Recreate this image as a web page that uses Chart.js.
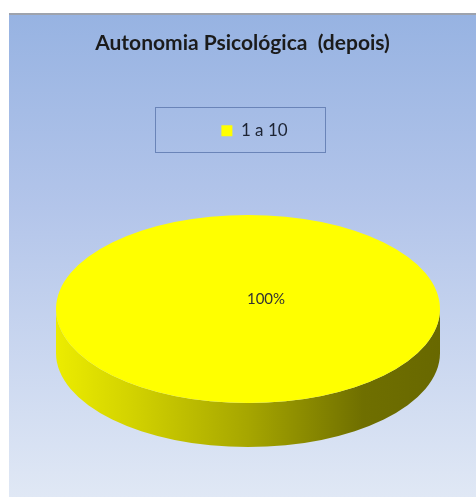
<!DOCTYPE html>
<html><head><meta charset="utf-8">
<script src="https://cdn.jsdelivr.net/npm/chart.js@4/dist/chart.umd.min.js"></script>
<style>
html,body{margin:0;padding:0;background:#fff;width:476px;height:497px;overflow:hidden}
#panel{position:absolute;left:9px;top:13px;width:467px;height:482px;border-top:2px solid #9ea3ad;background:linear-gradient(to bottom,#97b3e2 0%,#b3c5ea 40%,#e0e8f5 100%)}
canvas{display:block}
</style></head><body>
<div id="panel"><canvas id="c" width="467" height="482"></canvas></div>
<script>
const categories = ['1 a 10'];
const values = [100];
const sliceColors = ['#ffff00'];
const chartTitle = 'Autonomia Psicológica  (depois)';

const pie3d = {
  id: 'pie3d',
  beforeDatasetsDraw(chart, args, o) {
    const arc = chart.getDatasetMeta(0).data[0];
    const ctx = chart.ctx;
    const r = arc.outerRadius, ry = r * o.scaleY;
    const g = ctx.createLinearGradient(o.cx - r, 0, o.cx + r, 0);
    g.addColorStop(0, '#ecec00');
    g.addColorStop(0.2, '#d2d200');
    g.addColorStop(0.5, '#a6a600');
    g.addColorStop(0.8, '#6f6f00');
    g.addColorStop(1, '#686800');
    ctx.save();
    ctx.beginPath();
    ctx.ellipse(o.cx, o.cy, r, ry, 0, 0, Math.PI, false);
    ctx.lineTo(o.cx - r, o.cy + o.depth);
    ctx.ellipse(o.cx, o.cy + o.depth, r, ry, 0, Math.PI, 0, true);
    ctx.closePath();
    ctx.fillStyle = g;
    ctx.fill();
    ctx.restore();
    ctx.save();
    ctx.translate(o.cx, o.cy);
    ctx.scale(1, o.scaleY);
    ctx.translate(-arc.x, -arc.y);
  },
  afterDatasetsDraw(chart, args, o) {
    const ctx = chart.ctx;
    ctx.restore();
    const data = chart.data.datasets[0].data;
    const total = data.reduce((a, b) => a + b, 0);
    const pct = Math.round(data[0] / total * 100) + '%';
    ctx.save();
    ctx.font = '15px Lato';
    ctx.fillStyle = '#333333';
    ctx.textAlign = 'center';
    ctx.textBaseline = 'middle';
    ctx.fillText(pct, o.cx + o.labelDx, o.cy + o.labelDy);
    ctx.restore();
  }
};

const legendFrame = {
  id: 'legendFrame',
  afterLayout(chart, args, o) {
    chart.legend.left += o.shift;
    chart.legend.right += o.shift;
  },
  afterDraw(chart, args, o) {
    const ctx = chart.ctx;
    ctx.save();
    ctx.strokeStyle = o.color;
    ctx.lineWidth = 1;
    ctx.strokeRect(o.x + 0.5, o.y + 0.5, o.w, o.h);
    ctx.restore();
  }
};

function draw() {
  new Chart(document.getElementById('c'), {
    type: 'pie',
    data: {
      labels: categories,
      datasets: [{
        data: values,
        backgroundColor: sliceColors,
        borderWidth: 0,
        radius: 192,
        clip: false
      }]
    },
    options: {
      responsive: false,
      animation: false,
      events: [],
      layout: { padding: 0 },
      plugins: {
        title: {
          display: true, text: chartTitle, color: '#1b1b1b',
          font: { family: 'Lato', size: 21, weight: 'bold' },
          padding: { top: 16, bottom: 56 }
        },
        legend: {
          display: true, position: 'top',
          labels: { boxWidth: 11, boxHeight: 11, color: '#1c2333', font: { family: 'Lato', size: 17 } }
        },
        tooltip: { enabled: false },
        pie3d: { cx: 239, cy: 294, scaleY: 0.49, depth: 44, labelDx: 18, labelDy: -10 },
        legendFrame: { x: 146, y: 92, w: 170, h: 45, color: '#6a84b8', shift: 12 }
      }
    },
    plugins: [pie3d, legendFrame]
  });
}
Promise.all([document.fonts.load('bold 21px Lato'), document.fonts.load('17px Lato')]).then(draw, draw);
</script>
</body></html>
